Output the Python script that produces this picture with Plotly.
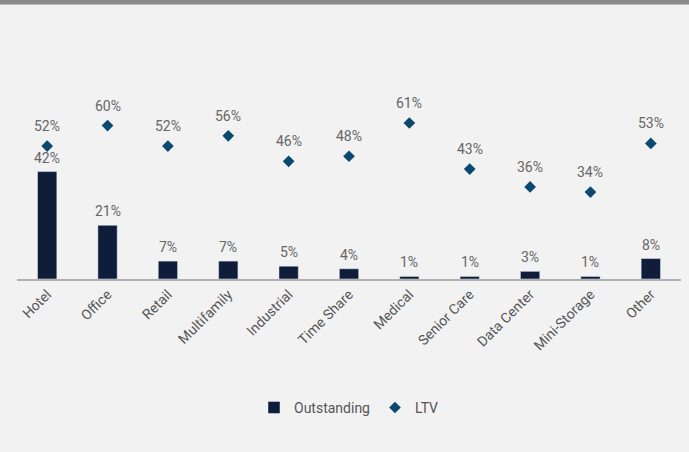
import plotly.graph_objects as go

categories = ["Hotel", "Office", "Retail", "Multifamily", "Industrial", "Time Share",
              "Medical", "Senior Care", "Data Center", "Mini-Storage", "Other"]
outstanding = [42, 21, 7, 7, 5, 4, 1, 1, 3, 1, 8]
ltv = [52, 60, 52, 56, 46, 48, 61, 43, 36, 34, 53]

BAR = "#0f1d3b"
DIAMOND = "#0b4a70"
TXT = "#666666"
BG = "#f2f2f2"

fig = go.Figure()
fig.add_trace(go.Bar(x=categories, y=outstanding, name="Outstanding",
                     marker=dict(color=BAR), width=0.32))
fig.add_trace(go.Scatter(x=categories, y=ltv, name="LTV", mode="markers",
                         marker=dict(symbol="diamond", size=9, color=DIAMOND)))

annotations = []
for c, v in zip(categories, outstanding):
    annotations.append(dict(x=c, y=v, text=f"{v}%", showarrow=False, yshift=14,
                            yanchor="middle", font=dict(size=14, color=TXT)))
for c, v in zip(categories, ltv):
    annotations.append(dict(x=c, y=v, text=f"{v}%", showarrow=False, yshift=20,
                            yanchor="middle", font=dict(size=14, color=TXT)))

fig.update_layout(
    width=689, height=452,
    margin=dict(l=17, r=8, t=100, b=173),
    paper_bgcolor=BG, plot_bgcolor=BG,
    font=dict(family="Roboto", size=14, color=TXT),
    showlegend=True,
    legend=dict(orientation="h", x=0.5, xanchor="center", y=-0.72, yanchor="middle",
                font=dict(size=14, color="#555555"), itemwidth=30, bgcolor="rgba(0,0,0,0)"),
    annotations=annotations,
    shapes=[dict(type="rect", xref="paper", yref="paper", x0=-0.1, x1=1.1,
                 y0=(279 - 4.5) / 179, y1=(279 + 5) / 179,
                 fillcolor="#8a8a8a", line=dict(width=0), layer="above")],
)
fig.update_xaxes(tickangle=-45, showline=True, linecolor="#b0b0b0", linewidth=1.5,
                 ticks="", showgrid=False, automargin=False, range=[-0.5, 10.5],
                 tickfont=dict(size=14, color="#555555"))
fig.update_yaxes(range=[0, 70], visible=False, showgrid=False, zeroline=False,
                 automargin=False)

fig.write_html("out.html")
